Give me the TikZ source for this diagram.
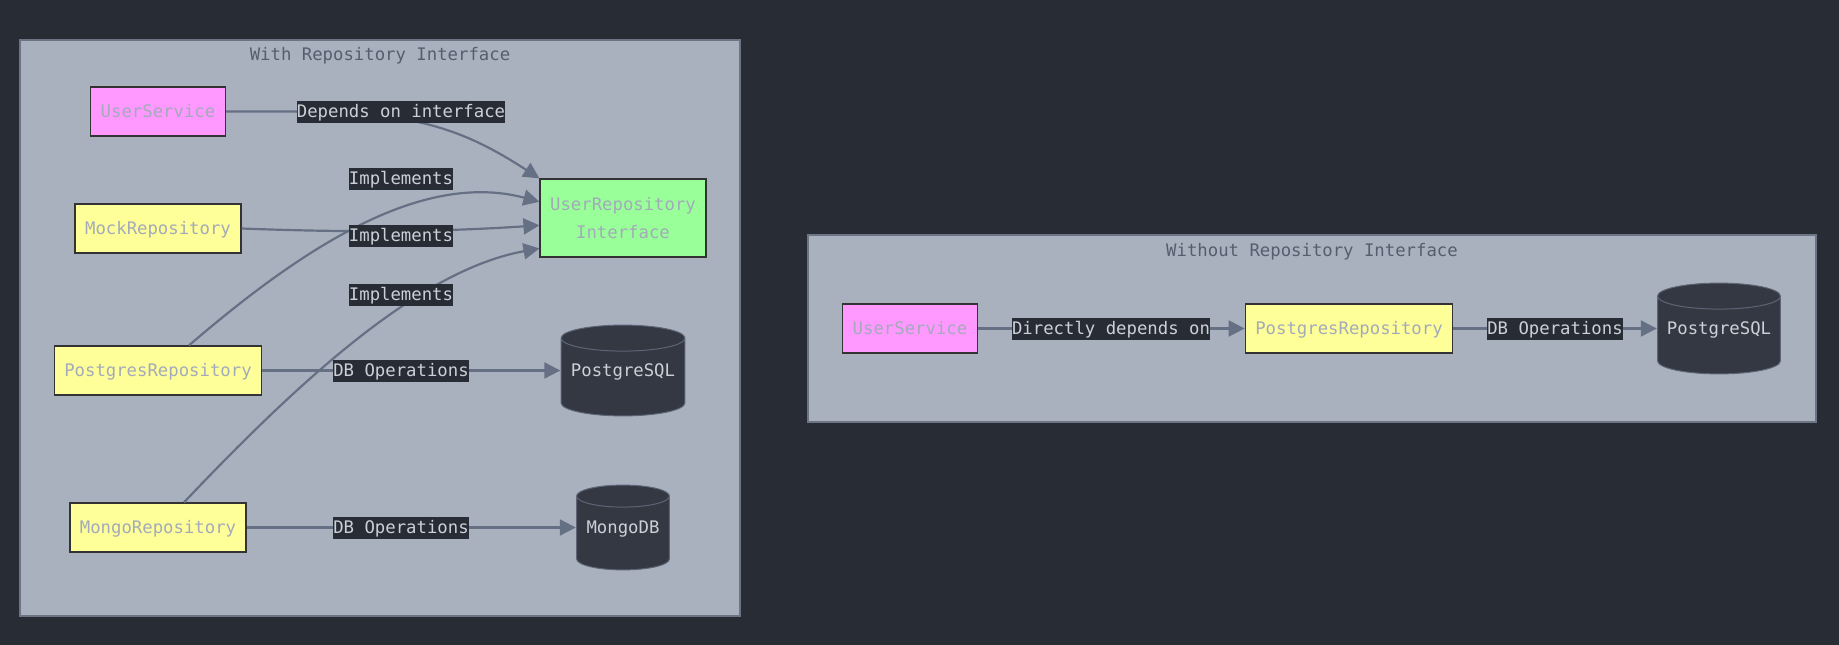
\documentclass[tikz,border=0pt]{standalone}
\usepackage{fontspec}
\setmainfont{DejaVu Sans Mono}
\usetikzlibrary{arrows.meta}
\definecolor{bgdark}{HTML}{282C34}
\definecolor{clfill}{HTML}{AAB1BE}
\definecolor{clline}{HTML}{6C7485}
\definecolor{cltext}{HTML}{565E6E}
\definecolor{edgecol}{HTML}{667084}
\definecolor{nodetext}{HTML}{A3AABA}
\definecolor{lbltext}{HTML}{CCD0D8}
\definecolor{pinkfill}{HTML}{FF99FF}
\definecolor{yellowfill}{HTML}{FFFF99}
\definecolor{greenfill}{HTML}{99FF99}
\definecolor{dbfill}{HTML}{343842}
\definecolor{dbline}{HTML}{5C6475}

\begin{document}
\begin{tikzpicture}[x=1pt,y=-1pt,
	font=\fontsize{17.3}{28}\selectfont,
	txt/.style={text height=13.5pt,text depth=2pt},
	box/.style={txt,draw=black!80,line width=1.3pt,text=nodetext,inner xsep=10pt,
		minimum height=49pt},
	svc/.style={box,fill=pinkfill},
	repo/.style={box,fill=yellowfill},
	iface/.style={draw=black!80,line width=1.3pt,text=nodetext,inner xsep=10pt,
		fill=greenfill,align=center,minimum height=78pt},
	% cylinder: width, height, cap radius
	db/.style n args={3}{txt,inner sep=0pt,text=lbltext,
		minimum width=#1pt,minimum height=#2pt,
		path picture={\draw[dbline,fill=dbfill,line width=1pt]
			([xshift=0.6pt,yshift=-#3pt-0.6pt]path picture bounding box.north west)
			-- ([xshift=0.6pt,yshift=#3pt+0.6pt]path picture bounding box.south west)
			arc[start angle=180,end angle=360,x radius=#1/2*1pt-0.6pt,y radius=#3pt]
			-- ([xshift=-0.6pt,yshift=-#3pt-0.6pt]path picture bounding box.north east)
			arc[start angle=0,end angle=180,x radius=#1/2*1pt-0.6pt,y radius=#3pt]
			-- cycle
			([xshift=0.6pt,yshift=-#3pt-0.6pt]path picture bounding box.north west)
			arc[start angle=180,end angle=360,x radius=#1/2*1pt-0.6pt,y radius=#3pt];}},
	lbl/.style={txt,fill=bgdark,text=lbltext,inner sep=0pt,minimum height=22pt},
	edge/.style={draw=edgecol,line width=2.2pt,-{Triangle[length=16pt,width=16pt]}},
	cluster/.style={fill=clfill,draw=clline,line width=1.5pt}]
\useasboundingbox[fill=bgdark] (0,0) rectangle (1839,645);
%cluster with interface
\filldraw[cluster] (20,40) rectangle (740,616);
\path (380,56) node[text=cltext] (t1) {With Repository Interface};
\path (158,111.5) node[svc,minimum width=135pt] (us1) {UserService}
	(158,228.5) node[repo] (mock) {MockRepository}
	(158,370.5) node[repo] (pg1) {PostgresRepository}
	(158,527.5) node[repo] (mongo) {MongoRepository}
	(623,218) node[iface] (iface) {UserRepository\\Interface};
\path (623,370.5) node[db={125}{92}{13}] (pgsql1) {PostgreSQL}
	(623,527.5) node[db={94}{86}{11}] (mongodb) {MongoDB};
\draw[edge] (us1.east) -- ++(75,0) .. controls +(120,0) and +(-70,-45) .. (iface.north west);
\draw[edge] (pg1.north) ++(31,0) .. controls (300,250) and (420,170) .. (iface.169);
\draw[edge] (mock.east) .. controls +(80,3) and +(-120,8) .. (iface.185);
\draw[edge] (mongo.north) ++(26,0) .. controls (300,380) and (420,270) .. (iface.200);
\draw[edge] (pg1) -- (pgsql1);
\draw[edge] (mongo) -- (mongodb);
\path (401,112) node[lbl] (dep) {Depends on interface}
	(401,179) node[lbl] (impl1) {Implements}
	(401,236) node[lbl] (impl2) {Implements}
	(401,294.5) node[lbl] (impl3) {Implements}
	(401,371) node[lbl] (ops1) {DB Operations}
	(401,527.5) node[lbl] (ops2) {DB Operations};
%cluster without interface
\filldraw[cluster] (808,235) rectangle (1816,422);
\path (1312,251.5) node[text=cltext] (t2) {Without Repository Interface};
\path (910,328.5) node[svc] (us2) {UserService}
	(1349,328.5) node[repo] (pg2) {PostgresRepository}
	(1719,328.5) node[db={124}{92}{13}] (pgsql2) {PostgreSQL};
\draw[edge] (us2) -- (pg2);
\draw[edge] (pg2) -- (pgsql2);
\path (1111,328.5) node[lbl] (direct) {Directly depends on}
	(1555,328.5) node[lbl] (ops3) {DB Operations};
\end{tikzpicture}
\end{document}
